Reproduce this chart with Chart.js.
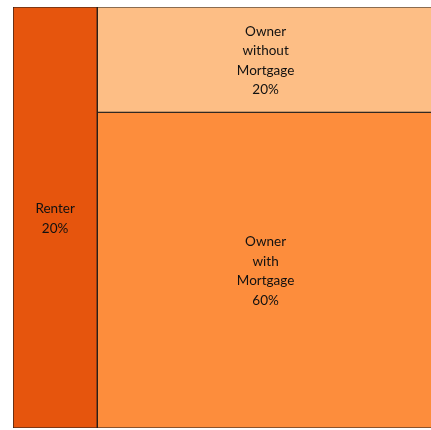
<!DOCTYPE html>
<html>
<head>
<meta charset="utf-8">
<script src="https://cdn.jsdelivr.net/npm/chart.js@4/dist/chart.umd.min.js"></script>
<style>
  html, body { margin: 0; padding: 0; background: #fff; overflow: hidden; }
  #wrap { width: 440px; height: 430px; position: relative; }
</style>
</head>
<body>
<div id="wrap"><canvas id="treeChart"></canvas></div>
<script>
// Datos del treemap (tenencia de vivienda)
const categories = ['Renter', 'Owner without Mortgage', 'Owner with Mortgage'];
const labelLines = [['Renter'], ['Owner', 'without', 'Mortgage'], ['Owner', 'with', 'Mortgage']];
const shares = [20, 20, 60];
const colors = ['#e6550d', '#fdbe85', '#fd8d3c'];

// Layout: the first item takes a full-height strip on the left,
// the rest are stacked top to bottom in the remaining area (units 0..100)
function layout(values) {
    const total = values.reduce((a, b) => a + b, 0);
    const boxes = [];
    const w0 = values[0] / total * 100;
    boxes.push({ x0: 0, x1: w0, y0: 0, y1: 100 });
    const rest = total - values[0];
    let top = 100;
    for (let i = 1; i < values.length; i++) {
        const h = values[i] / rest * 100;
        boxes.push({ x0: w0, x1: 100, y0: top - h, y1: top });
        top -= h;
    }
    return boxes;
}

const boxes = layout(shares);

const datasets = boxes.map((b, i) => ({
    label: categories[i],
    data: [
        { x: b.x0, y: b.y0 }, { x: b.x0, y: b.y1 },
        { x: b.x1, y: b.y1 }, { x: b.x1, y: b.y0 },
        { x: b.x0, y: b.y0 }
    ],
    showLine: true,
    fill: 'shape',
    backgroundColor: colors[i],
    borderColor: '#1a1a1a',
    borderWidth: 1.2,
    pointRadius: 0,
    pointHoverRadius: 0,
    tension: 0
}));

// Etiquetas centradas en cada rectángulo
const boxLabels = {
    id: 'boxLabels',
    afterDatasetsDraw(chart) {
        const { ctx, scales: { x, y } } = chart;
        ctx.save();
        ctx.fillStyle = '#111';
        ctx.font = "13.5px Lato, 'DejaVu Sans', sans-serif";
        ctx.textAlign = 'center';
        ctx.textBaseline = 'middle';
        const lh = 19.6;
        boxes.forEach((b, i) => {
            const cx = (x.getPixelForValue(b.x0) + x.getPixelForValue(b.x1)) / 2;
            const cy = (y.getPixelForValue(b.y0) + y.getPixelForValue(b.y1)) / 2 + 1;
            const lines = labelLines[i].concat([shares[i] + '%']);
            const start = cy - (lines.length - 1) * lh / 2;
            lines.forEach((t, k) => ctx.fillText(t, cx, start + k * lh));
        });
        ctx.restore();
    }
};

new Chart(document.getElementById('treeChart').getContext('2d'), {
    type: 'scatter',
    data: { datasets },
    options: {
        responsive: true,
        maintainAspectRatio: false,
        animation: false,
        layout: { padding: { left: 13, top: 7, right: 6, bottom: 2 } },
        plugins: {
            legend: { display: false },
            tooltip: { enabled: false }
        },
        scales: {
            x: { type: 'linear', min: 0, max: 100, display: false },
            y: { type: 'linear', min: 0, max: 100, display: false }
        }
    },
    plugins: [boxLabels]
});
</script>
</body>
</html>
